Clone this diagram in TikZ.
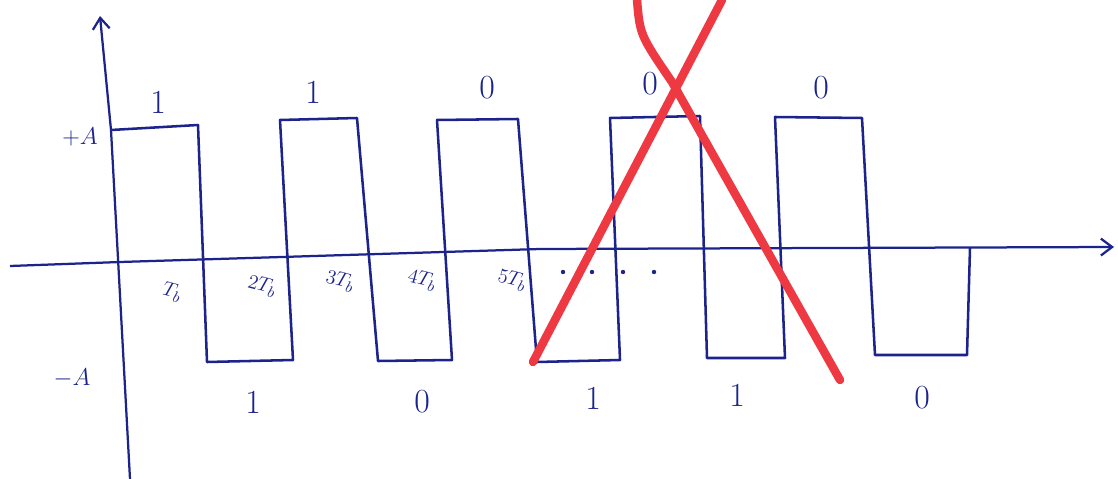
\documentclass[tikz,border=0pt]{standalone}
\usepackage{amsmath,amssymb}
\usepackage{tikz}
\usetikzlibrary{arrows.meta}

\definecolor{ink}{RGB}{28,36,140}
\definecolor{crossred}{RGB}{238,56,66}

\tikzset{
    wave/.style={draw=ink, line width=1.8pt, line join=round},
    axisline/.style={draw=ink, line width=1.6pt},
    bitlabel/.style={text=ink, font=\fontsize{24}{28}\selectfont},
    ticklabel/.style={text=ink, font=\fontsize{15}{17}\selectfont, rotate=-15, inner sep=1pt},
    levellabel/.style={text=ink, font=\fontsize{18}{22}\selectfont},
    cross/.style={draw=crossred, line width=6pt, line cap=round}
}

\begin{document}
\begin{tikzpicture}[x=0.025cm, y=-0.025cm, >={Straight Barb[length=8pt,width=12pt]}]
    \useasboundingbox (0,0) rectangle (1118,479);

    % axes
    \coordinate (ybot) at (130,479);
    \coordinate (ybend) at (111,130);
    \coordinate (ytop) at (100,16);
    \coordinate (xleft) at (10,266);
    \coordinate (xbend) at (540,249);
    \coordinate (xright) at (1114,247);
    \draw[axisline,->] (ybot) -- (ybend) -- (ytop);
    \draw[axisline,->] (xleft) -- (120,262) -- (xbend) -- (xright);

    % levels
    \node[levellabel] (plusA) at (80,137) {$+A$};
    \node[levellabel] (minusA) at (72,378) {$-A$};

    % waveform
    \draw[wave] (ybend) -- (198,125) -- (207,362) -- (293,360) -- (280,120)
        -- (357,118) -- (378,361) -- (452,360) -- (437,120) -- (518,119)
        -- (537,362) -- (620,360) -- (610,118) -- (700,116) -- (707,358)
        -- (785,358) -- (775,117) -- (862,118) -- (875,355) -- (967,355)
        -- (970,248);

    % bits above
    \node[bitlabel] (top1) at (158,102) {1};
    \node[bitlabel] (top2) at (313,92) {1};
    \node[bitlabel] (top3) at (487,88) {0};
    \node[bitlabel] (top4) at (650,84) {0};
    \node[bitlabel] (top5) at (821,88) {0};

    % bits below
    \node[bitlabel] (bot1) at (253,402) {1};
    \node[bitlabel] (bot2) at (422,402) {0};
    \node[bitlabel] (bot3) at (593,398) {1};
    \node[bitlabel] (bot4) at (737,395) {1};
    \node[bitlabel] (bot5) at (922,398) {0};

    % time marks
    \node[ticklabel] (t1) at (172,292) {$T_b$};
    \node[ticklabel] (t2) at (262,286) {$2T_b$};
    \node[ticklabel] (t3) at (340,281) {$3T_b$};
    \node[ticklabel] (t4) at (422,280) {$4T_b$};
    \node[ticklabel] (t5) at (512,280) {$5T_b$};
    \foreach \x in {563,592,623,654}
        \fill[ink] (\x,272) circle (2.2);

    % crossed out
    \draw[cross] (533,362) -- (722,0);
    \draw[cross] (637,0) .. controls (640,35) .. (672,82) -- (840,380);
\end{tikzpicture}
\end{document}
